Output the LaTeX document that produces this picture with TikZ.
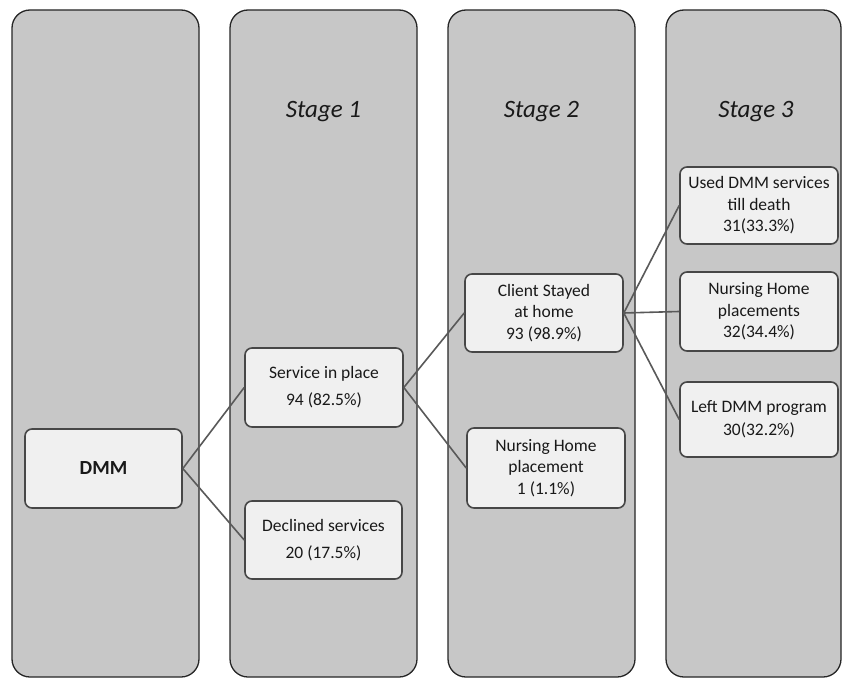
\documentclass[tikz,border=0pt]{standalone}
\usepackage{fontspec}
\setmainfont{Carlito}
\begin{document}
\begin{tikzpicture}[x=1pt,y=-1pt,
  col/.style={draw=black!85,line width=1.3pt,fill=black!22,rounded corners=18pt,inner sep=0pt},
  box/.style={draw=black!72,line width=1.6pt,fill=black!6,rounded corners=7pt,inner sep=0pt,
     align=center,font=\fontsize{17.5}{21.5}\selectfont,text=black!90},
  title/.style={font=\fontsize{25}{28}\selectfont\itshape,text=black!90},
  link/.style={draw=black!65,line width=1.6pt}]
\useasboundingbox (0,0) rectangle (843,679);
\fill[white] (0,0) rectangle (843,679);
% columns
\node[col,minimum width=187pt,minimum height=667pt] (c1) at (105.5,343.5) {};
\node[col,minimum width=187pt,minimum height=667pt] (c2) at (323.5,343.5) {};
\node[col,minimum width=187pt,minimum height=667pt] (c3) at (541.5,343.5) {};
\node[col,minimum width=175pt,minimum height=667pt] (c4) at (753.5,343.5) {};
% titles
\node[title] (t1) at (323.5,112) {Stage 1};
\node[title] (t2) at (541.5,112) {Stage 2};
\node[title] (t3) at (756,112) {Stage 3};
% boxes
\node[box,minimum width=157pt,minimum height=79pt,font=\fontsize{20}{24}\selectfont\bfseries] (dmm) at (103.5,468.5) {DMM};
\node[box,minimum width=158pt,minimum height=79pt,font=\fontsize{17.5}{27}\selectfont] (sip) at (324,387.5) {Service in place\\94 (82.5\%)};
\node[box,minimum width=157pt,minimum height=78pt,font=\fontsize{17.5}{27}\selectfont] (dec) at (323.5,540) {Declined services\\20 (17.5\%)};
\node[box,minimum width=158pt,minimum height=78pt] (csh) at (544,313) {Client Stayed\\at home\\93 (98.9\%)};
\node[box,minimum width=158pt,minimum height=80pt] (nhp) at (546,468) {Nursing Home\\placement\\1 (1.1\%)};
\node[box,minimum width=158pt,minimum height=77pt] (used) at (759,205.5) {Used DMM services\\till death\\31(33.3\%)};
\node[box,minimum width=158pt,minimum height=79pt] (nhps) at (759,311.5) {Nursing Home\\placements\\32(34.4\%)};
\node[box,minimum width=158pt,minimum height=75pt,font=\fontsize{17.5}{23}\selectfont] (left) at (759,419.5) {Left DMM program\\30(32.2\%)};
% connectors
\draw[link] (dmm.east) -- (sip.west);
\draw[link] (dmm.east) -- (dec.west);
\draw[link] (sip.east) -- (csh.west);
\draw[link] (sip.east) -- (nhp.west);
\draw[link] (csh.east) -- (used.west);
\draw[link] (csh.east) -- (nhps.west);
\draw[link] (csh.east) -- (left.west);
\end{tikzpicture}
\end{document}
